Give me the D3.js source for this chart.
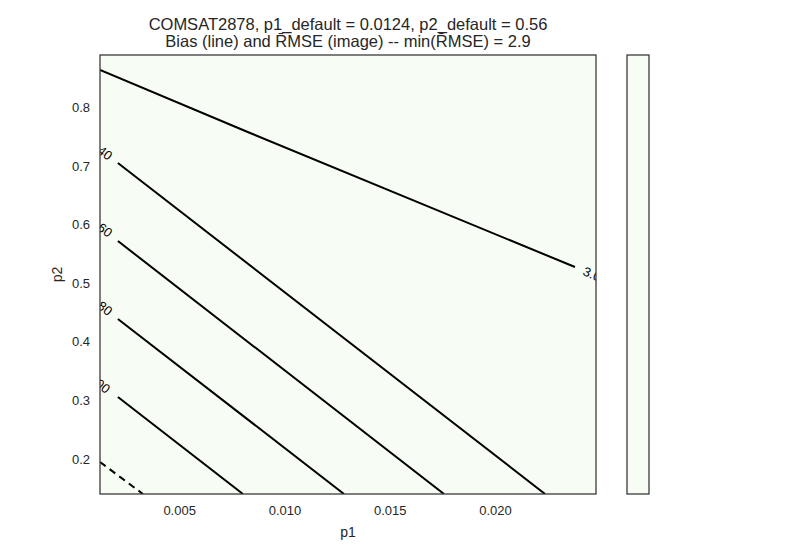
<!DOCTYPE html>
<html>
<head>
<meta charset="utf-8">
<script src="https://cdn.jsdelivr.net/npm/d3@7"></script>
<style>
  body { margin: 0; background: #fff; }
  text { font-family: "Liberation Sans", Arial, sans-serif; fill: #262626; }
</style>
</head>
<body>
<div id="chart"></div>
<script>
// axis ranges and ticks
var p1Domain = [0.00124, 0.0248];
var p2Domain = [0.14, 0.89];
var p1Ticks = [0.005, 0.010, 0.015, 0.020];
var p2Ticks = [0.2, 0.3, 0.4, 0.5, 0.6, 0.7, 0.8];

// contour lines (bias)
var contourLevels = ["3.0", "40", "60", "80", "100", ""];
var contourDashed = [false, false, false, false, false, true];
var contourP1 = [
  [0.00124, 0.00837, 0.0238],
  [0.00209, 0.02238],
  [0.00209, 0.01758],
  [0.00209, 0.01283],
  [0.00209, 0.00803],
  [0.00124, 0.00328]
];
var contourP2 = [
  [0.8644, 0.7567, 0.5278],
  [0.7055, 0.14],
  [0.5722, 0.14],
  [0.439, 0.14],
  [0.3057, 0.14],
  [0.1947, 0.14]
];
var labelP1 = [0.02461, 0.00148, 0.00148, 0.00148, 0.00124, null];
var labelP2 = [0.5159, 0.7226, 0.591, 0.4573, 0.328, null];

var rmseColor = "#f7fcf5";

var margin = {top: 55, right: 204, bottom: 56, left: 100},
    width = 800 - margin.left - margin.right,
    height = 550 - margin.top - margin.bottom;

var svg = d3.select("#chart")
  .append("svg")
    .attr("width", 800)
    .attr("height", 550)
  .append("g")
    .attr("transform", "translate(" + margin.left + "," + margin.top + ")");

var x = d3.scaleLinear().domain(p1Domain).range([0, width]);
var y = d3.scaleLinear().domain(p2Domain).range([height, 0]);

svg.append("clipPath").attr("id", "clip")
  .append("rect").attr("width", width).attr("height", height);

// RMSE image (uniform)
svg.append("rect")
  .attr("width", width).attr("height", height)
  .style("fill", rmseColor);

var plot = svg.append("g").attr("clip-path", "url(#clip)");

var line = d3.line()
  .x(function(d) { return x(d[0]); })
  .y(function(d) { return y(d[1]); });

contourLevels.forEach(function(lev, i) {
  var pts = d3.zip(contourP1[i], contourP2[i]);
  plot.append("path")
    .attr("d", line(pts))
    .style("fill", "none")
    .style("stroke", "#000")
    .style("stroke-width", 2)
    .style("stroke-dasharray", contourDashed[i] ? "7,5" : null);

  if (labelP1[i] != null) {
    var a = pts[pts.length - 2], b = pts[pts.length - 1];
    if (i > 0) { a = pts[0]; b = pts[1]; }
    var ang = Math.atan2(y(b[1]) - y(a[1]), x(b[0]) - x(a[0])) * 180 / Math.PI;
    plot.append("text")
      .attr("transform", "translate(" + x(labelP1[i]) + "," + y(labelP2[i]) + ") rotate(" + ang + ")")
      .attr("text-anchor", "middle")
      .attr("dy", "0.35em")
      .style("font-size", "13px")
      .style("fill", "#000")
      .text(lev);
  }
});

// frame
svg.append("rect")
  .attr("width", width).attr("height", height)
  .style("fill", "none").style("stroke", "#333").style("stroke-width", 1.25);

var xAxis = svg.append("g")
  .attr("transform", "translate(0," + height + ")")
  .call(d3.axisBottom(x).tickValues(p1Ticks).tickFormat(d3.format(".3f")).tickSize(0).tickPadding(12));
var yAxis = svg.append("g")
  .call(d3.axisLeft(y).tickValues(p2Ticks).tickFormat(d3.format(".1f")).tickSize(0).tickPadding(10));
[xAxis, yAxis].forEach(function(g) {
  g.select(".domain").remove();
  g.selectAll("text").style("font-size", "13px").style("font-family", null);
});

svg.append("text")
  .attr("x", width / 2).attr("y", height + 43)
  .attr("text-anchor", "middle").style("font-size", "14px")
  .text("p1");
svg.append("text")
  .attr("transform", "translate(-38," + height / 2 + ") rotate(-90)")
  .attr("text-anchor", "middle").style("font-size", "14px")
  .text("p2");

// title
svg.append("text")
  .attr("x", width / 2).attr("y", -25)
  .attr("text-anchor", "middle").style("font-size", "16.5px")
  .text("COMSAT2878, p1_default = 0.0124, p2_default = 0.56");
svg.append("text")
  .attr("x", width / 2).attr("y", -8.5)
  .attr("text-anchor", "middle").style("font-size", "16.5px")
  .text("Bias (line) and R\u0304MSE (image) -- min(R\u0304MSE) = 2.9");

// colorbar
svg.append("rect")
  .attr("x", width + 31).attr("width", 22).attr("height", height)
  .style("fill", rmseColor).style("stroke", "#333").style("stroke-width", 1.25);
</script>
</body>
</html>
